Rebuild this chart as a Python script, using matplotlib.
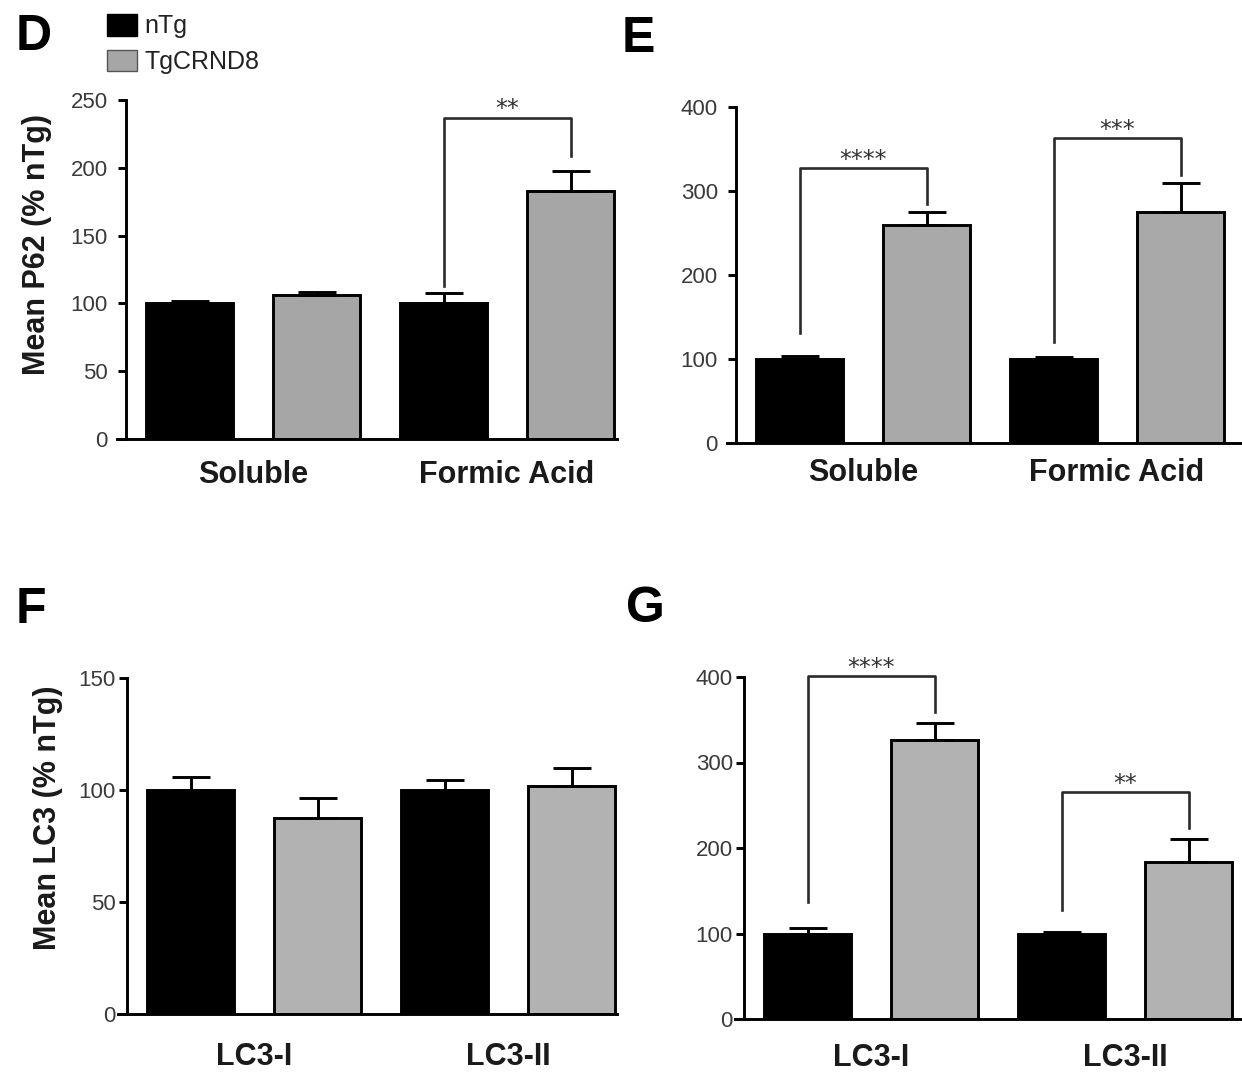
import numpy as np
import matplotlib.pyplot as plt
from matplotlib.patches import Patch

plt.rcParams['font.family'] = ['Liberation Sans', 'DejaVu Sans']

# P62 levels (D: mean P62 % nTg, E: second P62 panel)
p62_groups = ["Soluble", "Formic Acid"]
d_ntg = [100, 100]
d_ntg_err = [2, 8]
d_tg = [106, 183]
d_tg_err = [2.5, 15]
# (group index, bracket top, left leg end, right leg end, label)
d_brackets = [(1, 237, 113, 209, "**")]

e_ntg = [100, 100]
e_ntg_err = [3, 2]
e_tg = [259, 275]
e_tg_err = [16, 35]
e_brackets = [(0, 327, 131, 285, "****"),
              (1, 363, 120, 319, "***")]

# LC3 levels (F, G)
lc3_groups = ["LC3-I", "LC3-II"]
f_ntg = [100, 100]
f_ntg_err = [6, 4.5]
f_tg = [87.5, 102]
f_tg_err = [9, 8]
f_brackets = []

g_ntg = [100, 100]
g_ntg_err = [7, 2]
g_tg = [326, 184]
g_tg_err = [20, 26]
g_brackets = [(0, 401, 137, 359, "****"),
              (1, 265, 127, 223, "**")]

W, H = 1242, 1074
fig = plt.figure(figsize=(W / 100, H / 100), dpi=100)

UNIT = 127.0   # pixels per x unit
XPAD = 0.07    # x-axis runs a bit left of the y-axis
LW = 2.1


def make_axes(axis_x, right, top, bottom):
    left = axis_x - XPAD * UNIT
    ax = fig.add_axes([left / W, 1 - bottom / H, (right - left) / W, (bottom - top) / H])
    ax.set_xlim(-XPAD, (right - axis_x) / UNIT)
    return ax


def draw_panel(ax, groups, ntg, ntg_err, tg, tg_err, ymax, ystep, gray,
               brackets, label_pad, tick_pad):
    centers = np.array([1.0, 3.0])
    x_ntg = centers - 0.5
    x_tg = centers + 0.5
    ax.bar(x_ntg, ntg, width=0.68, color='black', edgecolor='black',
           linewidth=LW, zorder=2)
    ax.bar(x_tg, tg, width=0.68, color=gray, edgecolor='black',
           linewidth=LW, zorder=2)
    for xs, ys, errs in [(x_ntg, ntg, ntg_err), (x_tg, tg, tg_err)]:
        ax.errorbar(xs, ys, yerr=[np.zeros(len(ys)), errs], fmt='none',
                    ecolor='black', elinewidth=LW, capsize=14, capthick=LW,
                    zorder=3)

    for gi, top, yl, yr, lab in brackets:
        x1, x2 = x_ntg[gi], x_tg[gi]
        ax.plot([x1, x1, x2, x2], [yl, top, top, yr], color='#2a2a2a',
                lw=1.9, clip_on=False, zorder=4)
        ax.annotate(lab, ((x1 + x2) / 2, top), xytext=(0, 1),
                    textcoords='offset points', ha='center', va='baseline',
                    fontsize=17, color='#333333', family='DejaVu Sans',
                    annotation_clip=False)

    ax.set_ylim(0, ymax)
    ax.set_yticks(np.arange(0, ymax + 1, ystep))
    ax.set_xticks(centers)
    ax.set_xticklabels(groups, fontsize=22, fontweight='bold', color='#1a1a1a')
    ax.tick_params(axis='x', length=0, pad=label_pad)
    ax.tick_params(axis='y', length=6, width=LW, labelsize=16,
                   labelcolor='#3a3a3a', pad=tick_pad, direction='out')
    for s in ['top', 'right']:
        ax.spines[s].set_visible(False)
    ax.spines['left'].set_position(('data', 0))
    ax.spines['left'].set_linewidth(LW)
    ax.spines['bottom'].set_linewidth(LW)


ax_d = make_axes(126, 617, 100, 439)
draw_panel(ax_d, p62_groups, d_ntg, d_ntg_err, d_tg, d_tg_err, 250, 50,
           '#a6a6a6', d_brackets, 15, 7)
ax_e = make_axes(736, 1241, 107, 443)
draw_panel(ax_e, p62_groups, e_ntg, e_ntg_err, e_tg, e_tg_err, 400, 100,
           '#a9a9a9', e_brackets, 11, 7)
ax_f = make_axes(127, 617, 678, 1014)
draw_panel(ax_f, lc3_groups, f_ntg, f_ntg_err, f_tg, f_tg_err, 150, 50,
           '#b2b2b2', f_brackets, 20, 2)
ax_g = make_axes(744, 1241, 677, 1019)
draw_panel(ax_g, lc3_groups, g_ntg, g_ntg_err, g_tg, g_tg_err, 400, 100,
           '#b2b2b2', g_brackets, 17, 2)

ax_d.text(-0.16, 0.575, "Mean P62 (% nTg)", transform=ax_d.transAxes,
          rotation=90, ha='center', va='center', fontsize=22,
          fontweight='bold', color='#1a1a1a')
ax_f.text(-0.14, 0.583, "Mean LC3 (% nTg)", transform=ax_f.transAxes,
          rotation=90, ha='center', va='center', fontsize=22,
          fontweight='bold', color='#1a1a1a')

# panel letters
for lab, x, y in [("D", 16, 50), ("E", 622, 52), ("F", 16, 623), ("G", 626, 622)]:
    fig.text(x / W, 1 - y / H, lab, fontsize=36, fontweight='bold',
             ha='left', va='baseline', color='black')

handles = [Patch(facecolor='black', edgecolor='black'),
           Patch(facecolor='#a6a6a6', edgecolor='#555555')]
leg = ax_d.legend(handles, ["nTg", "TgCRND8"], loc='upper left',
                  bbox_to_anchor=(107 / W, 1 - 14 / H),
                  bbox_transform=fig.transFigure, frameon=False, fontsize=18,
                  handlelength=1.2, handleheight=0.95, handletextpad=0.3,
                  labelspacing=0.45, borderpad=0, borderaxespad=0)
for t in leg.get_texts():
    t.set_color('#222222')

fig.savefig("out.png", dpi=100)
